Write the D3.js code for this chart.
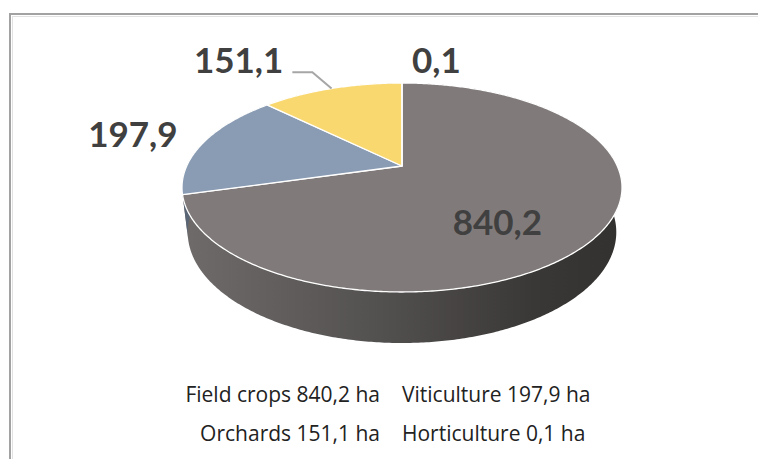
<!DOCTYPE html>
<html>
<head>
<meta charset="utf-8">
<script src="https://cdn.jsdelivr.net/npm/d3@7"></script>
<style>
  body { margin: 0; background: #fff; }
  svg { display: block; }
</style>
</head>
<body>
<svg id="chart"></svg>
<script>
// data
var categories = ["Field crops", "Viticulture", "Orchards", "Horticulture"];
var values = [840.2, 197.9, 151.1, 0.1];
var valueLabels = ["840,2", "197,9", "151,1", "0,1"];
var units = "ha";
var colors = ["#807b7a", "#8a9cb4", "#f9d870", "#7fa54f"];

var width = 758, height = 459;
var svg = d3.select("#chart").attr("width", width).attr("height", height);

// chart frame (runs off the right and bottom edge)
svg.append("rect").attr("x", 10).attr("y", 14).attr("width", 800).attr("height", 500)
  .attr("fill", "#fff").attr("stroke", "#a2a2a2").attr("stroke-width", 2);
svg.append("rect").attr("x", 12.5).attr("y", 16.5).attr("width", 800).attr("height", 500)
  .attr("fill", "none").attr("stroke", "#e2e2e2").attr("stroke-width", 1);

// perspective camera for the 3d pie
var cx = 402, cy = 166, focal = 926.8, dist = 1, rad = 0.2323, thick = 0.0549;
var tilt = Math.asin(0.4648);

function project(a, k, bottom) {
  var px = rad * k * Math.sin(a), pz = rad * k * Math.cos(a);
  var yw = pz * Math.sin(tilt) - (bottom ? thick * Math.cos(tilt) : 0);
  var dep = pz * Math.cos(tilt) + (bottom ? thick * Math.sin(tilt) : 0);
  return [cx + focal * px / (dist + dep), cy - focal * yw / (dist + dep)];
}

function arcPoints(a0, a1, k, bottom) {
  var n = Math.max(2, Math.ceil((a1 - a0) / 0.01));
  return d3.range(n + 1).map(function(i) { return project(a0 + (a1 - a0) * i / n, k, bottom); });
}

var pie = d3.pie().sort(null).value(function(d) { return d; });
var arcs = pie(values);
var line = d3.line();

var defs = svg.append("defs");
var left = project(-1.78, 1, false)[0], right = project(1.78, 1, false)[0];
var grad = defs.append("linearGradient").attr("id", "side")
  .attr("gradientUnits", "userSpaceOnUse")
  .attr("x1", left).attr("x2", right).attr("y1", 0).attr("y2", 0);
grad.append("stop").attr("offset", 0).attr("stop-color", "#6f6b6a");
grad.append("stop").attr("offset", 0.45).attr("stop-color", "#535050");
grad.append("stop").attr("offset", 0.8).attr("stop-color", "#3a3836");
grad.append("stop").attr("offset", 1).attr("stop-color", "#333130");

var g = svg.append("g");

// outer walls first, top faces over them
g.selectAll(".side").data(arcs).enter().append("path")
  .attr("class", "side")
  .attr("fill", function(d, i) { return i == 0 ? "url(#side)" : d3.color(colors[i]).darker(1.2); })
  .attr("d", function(d) {
    var top = arcPoints(d.startAngle, d.endAngle, 1, false);
    var bot = arcPoints(d.startAngle, d.endAngle, 1, true).reverse();
    return line(top.concat(bot)) + "Z";
  });

g.selectAll(".top").data(arcs).enter().append("path")
  .attr("class", "top")
  .attr("fill", function(d, i) { return colors[i]; })
  .attr("stroke", "#fff").attr("stroke-width", 1.3).attr("stroke-linejoin", "round")
  .attr("d", function(d) {
    var pts = [project(0, 0, false)].concat(arcPoints(d.startAngle, d.endAngle, 1, false));
    return line(pts) + "Z";
  });

// data labels
var labelLayout = [
  {k: 0.52, dx: 0, dy: 35, anchor: "middle"},
  {k: 1.38, dx: 0, dy: 13, anchor: "middle"},
  {k: 1.38, dx: -27, dy: 8, anchor: "end", leader: true},
  {k: 1.38, dx: 10, dy: 15, anchor: "start"}
];

arcs.forEach(function(d, i) {
  var mid = (d.startAngle + d.endAngle) / 2;
  var lay = labelLayout[i];
  var p = project(mid, lay.k, false);
  if (lay.leader) {
    var e = project(mid, 1, false);
    g.append("path")
      .attr("fill", "none").attr("stroke", "#a6a6a6").attr("stroke-width", 2)
      .attr("d", line([e, [p[0] + 2, p[1] + 7], [p[0] - 18, p[1] + 7]]));
  }
  g.append("text")
    .attr("x", p[0] + lay.dx).attr("y", p[1] + lay.dy)
    .attr("text-anchor", lay.anchor)
    .style("font", "bold 35px Lato")
    .attr("fill", "#404040")
    .text(valueLabels[i]);
});

// legend, two columns, no swatches
var legend = svg.append("g").style("font", "21px 'Open Sans'").attr("fill", "#222");
categories.forEach(function(c, i) {
  var col = i % 2, row = Math.floor(i / 2);
  legend.append("text")
    .attr("x", col == 0 ? 380 : 402)
    .attr("y", 402 + row * 39)
    .attr("text-anchor", col == 0 ? "end" : "start")
    .text(c + " " + valueLabels[i] + " " + units);
});
</script>
</body>
</html>
